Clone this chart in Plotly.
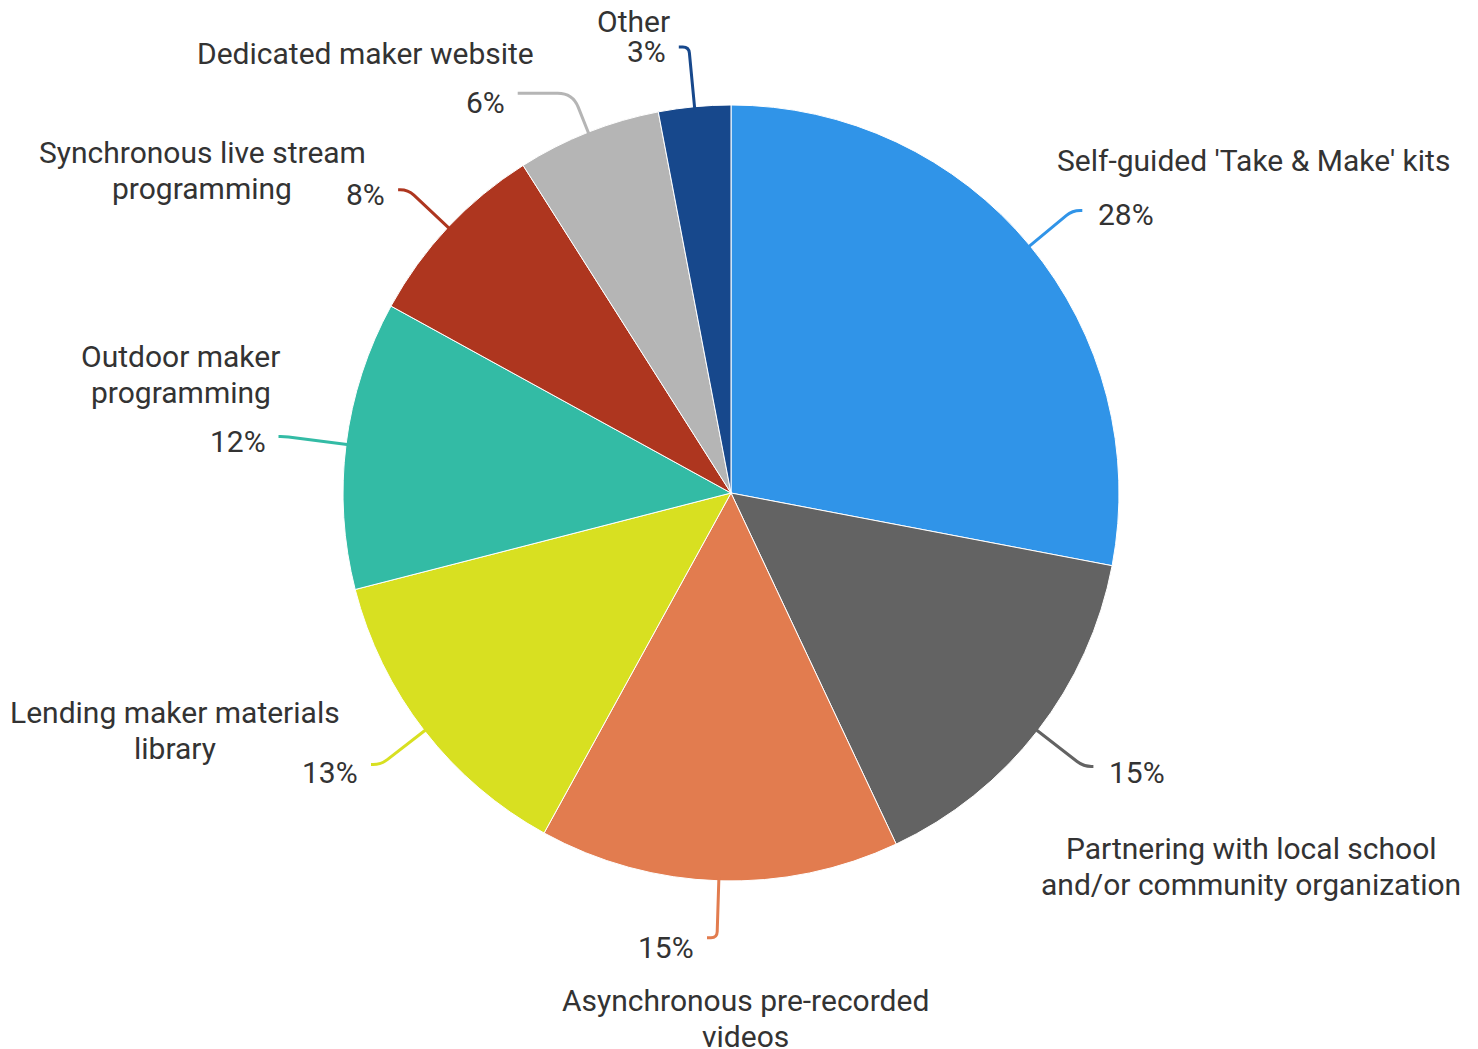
import math
import plotly.graph_objects as go

# Share of libraries using each maker-programming approach (%)
categories = [
    "Self-guided 'Take & Make' kits",
    "Partnering with local school and/or community organization",
    "Asynchronous pre-recorded videos",
    "Lending maker materials library",
    "Outdoor maker programming",
    "Synchronous live stream programming",
    "Dedicated maker website",
    "Other",
]
shares = [28, 15, 15, 13, 12, 8, 6, 3]
label_lines = [
    ["Self-guided 'Take & Make' kits"],
    ["Partnering with local school", "and/or community organization"],
    ["Asynchronous pre-recorded", "videos"],
    ["Lending maker materials", "library"],
    ["Outdoor maker", "programming"],
    ["Synchronous live stream", "programming"],
    ["Dedicated maker website"],
    ["Other"],
]
colors = ["#3094E8", "#636363", "#E27C4F", "#D8E021",
          "#33BBA5", "#AE361F", "#B5B5B5", "#17488C"]

W, H = 1478, 1049
CX, CY, R = 731, 493, 388          # pie centre and radius (px)
FONT = "Roboto"
FSIZE = 30
TXT = "#333333"
LINE_GAP = 36

# leader layout per slice: radial length, tail length, corner size
leader_len = [55, 58, 57, 55, 62, 55, 42, 60]
tail_len = [10, 10, 10, 10, 6, 10, 55, 10]
corner = [8, 8, 6, 8, 4, 8, 15, 6]
# vertical offset of the percentage from the leader tail end
pct_dy = [4, 6, 10, 8, 5, 5, 9, 5]
# offset of the category name block from the leader tail end
name_offset = [(171, -50), (158, 100), (38, 81), (-196, -34),
               (-98, -62), (-196, -19), (-152, -40), (-45, -25)]

fig = go.Figure()
fig.add_trace(go.Pie(
    labels=categories,
    values=shares,
    sort=False,
    direction="clockwise",
    rotation=0,
    textinfo="none",
    hovertemplate="%{label}: %{value}%<extra></extra>",
    marker=dict(colors=colors, line=dict(color="white", width=1)),
    domain=dict(x=[(CX - R) / W, (CX + R) / W],
                y=[1 - (CY + R) / H, 1 - (CY - R) / H]),
    showlegend=False,
))

total = sum(shares)
shapes, annotations = [], []
cum = 0
for i, v in enumerate(shares):
    mid = (cum + v / 2) / total * 2 * math.pi
    cum += v
    dx, dy = math.sin(mid), -math.cos(mid)
    side = 1 if dx >= 0 else -1
    x0, y0 = CX + (R - 3) * dx, CY + (R - 3) * dy
    ex, ey = CX + (R + leader_len[i]) * dx, CY + (R + leader_len[i]) * dy
    c = corner[i]
    tx, ty = ex + side * tail_len[i], ey
    path = (f"M {x0:.1f},{y0:.1f} L {ex - c * dx:.1f},{ey - c * dy:.1f} "
            f"Q {ex:.1f},{ey:.1f} {ex + side * c:.1f},{ey:.1f} L {tx:.1f},{ty:.1f}")
    shapes.append(dict(type="path", path=path, xref="x", yref="y",
                       line=dict(color=colors[i], width=3), layer="above"))

    annotations.append(dict(
        x=tx + side * (14 if side > 0 else 11), y=ty + pct_dy[i],
        xref="x", yref="y",
        text=f"{v}%", showarrow=False,
        xanchor="left" if side > 0 else "right", yanchor="middle",
        font=dict(family=FONT, size=FSIZE, color=TXT)))

    ncx, ncy = tx + name_offset[i][0], ty + name_offset[i][1]
    n = len(label_lines[i])
    for j, line in enumerate(label_lines[i]):
        annotations.append(dict(
            x=ncx, y=ncy + (j - (n - 1) / 2) * LINE_GAP, xref="x", yref="y",
            text=line, showarrow=False, xanchor="center", yanchor="middle",
            font=dict(family=FONT, size=FSIZE, color=TXT)))

fig.update_layout(
    width=W, height=H,
    margin=dict(l=0, r=0, t=0, b=0),
    paper_bgcolor="white", plot_bgcolor="white",
    xaxis=dict(range=[0, W], visible=False, fixedrange=True, domain=[0, 1]),
    yaxis=dict(range=[H, 0], visible=False, fixedrange=True, domain=[0, 1]),
    shapes=shapes,
    annotations=annotations,
)

fig.write_html("out.html")
